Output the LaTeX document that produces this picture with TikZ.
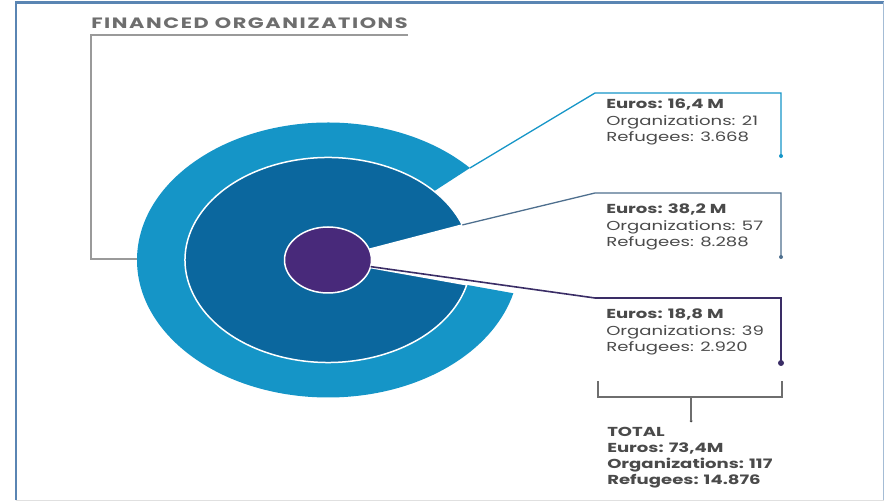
\documentclass[tikz,border=0pt]{standalone}
\usepackage{fontspec}
\setmainfont{Poppins}
\usetikzlibrary{calc}
\definecolor{lightb}{HTML}{1595C7}
\definecolor{darkb}{HTML}{0B679E}
\definecolor{purp}{HTML}{48297A}
\definecolor{steel}{HTML}{4E6F8E}
\definecolor{navy}{HTML}{3A2D66}
\definecolor{txt}{HTML}{4A4A4A}
\definecolor{frame}{HTML}{5A85B3}
\definecolor{grayline}{HTML}{9A9A9A}
\begin{document}
\begin{tikzpicture}[x=1pt,y=1pt,
  lbl/.style={anchor=north west, inner sep=0pt, align=left, text=txt, xscale=1.39,
    font=\fontsize{13}{16.5}\selectfont},
  conn/.style={line width=1.3pt},
  dotc/.style={circle, inner sep=0pt, minimum size=4pt}]
\useasboundingbox (0,0) rectangle (885,502);
\draw[frame, line width=2.5pt] (16,1.5) -- (16,499.5) -- (883.5,499.5);
\draw[frame!55, line width=1.5pt] (883.5,499.5) -- (883.5,1.5);
\draw[black!12, line width=1pt] (16,1) -- (883.5,1);
% title
\node[anchor=south west, inner sep=0pt, text=txt!80, xscale=1.39,
  font=\fontsize{15}{17}\selectfont\bfseries\addfontfeature{LetterSpace=7.5}] (title) at (91,473) {FINANCED ORGANIZATIONS};
\coordinate (tl) at (91,467);
\coordinate (tr) at (408,467);
\coordinate (lb) at (91,243);
\coordinate (C) at (328,242);
\coordinate (el) at (137,243);
\draw[grayline, line width=1.3pt] (tr) -- (tl) -- (lb) -- (el);
% rings
\fill[lightb] (C) -- ++(42:191 and 137.5) arc[start angle=42, end angle=346, x radius=191pt, y radius=137.5pt] -- cycle;
\filldraw[fill=darkb, draw=white, line width=1.5pt] (C) -- ++(20:143 and 102.5) arc[start angle=20, end angle=346, x radius=143pt, y radius=102.5pt] -- cycle;
\filldraw[fill=purp, draw=white, line width=1.5pt] (C) ellipse[x radius=43.5pt, y radius=33pt];
% connector points
\coordinate (s1) at ($(C)+(42:191 and 137.5)$);
\coordinate (s2) at ($(C)+(20:143 and 102.5)$);
\coordinate (s3) at ($(C)+(-11.6:43.5 and 33)$);
\coordinate (b1) at (595,409);
\coordinate (e1) at (781,409);
\coordinate (b2) at (595,309);
\coordinate (e2) at (781,309);
\coordinate (b3) at (595,204);
\coordinate (e3) at (781,204);
\node[dotc, fill=lightb] (d1) at (781,346) {};
\node[dotc, fill=steel] (d2) at (781,245) {};
\node[dotc, fill=navy, minimum size=6pt] (d3) at (781,139) {};
\draw[conn, lightb] (s1) -- (b1) -- (e1) -- (d1.center);
\draw[conn, steel] (s2) -- (b2) -- (e2) -- (d2.center);
\draw[conn, navy, line width=1.6pt] (s3) -- (b3) -- (e3) -- (d3.center);
% labels
\node[lbl] (l1) at (606,403) {\textbf{Euros: 16,4 M}\\Organizations: 21\\Refugees: 3.668};
\node[lbl] (l2) at (606,298) {\textbf{Euros: 38,2 M}\\Organizations: 57\\Refugees: 8.288};
\node[lbl] (l3) at (606,193) {\textbf{Euros: 18,8 M}\\Organizations: 39\\Refugees: 2.920};
% total bracket
\coordinate (k1) at (598,121);
\coordinate (k2) at (598,105);
\coordinate (k3) at (782,105);
\coordinate (k4) at (782,121);
\coordinate (km) at (691,105);
\node[dotc, fill=txt, minimum size=3pt] (kd) at (691,81) {};
\draw[conn, txt!80, line width=1.1pt] (k1) -- (k2) -- (k3) -- (k4);
\draw[conn, txt!80, line width=1.1pt] (km) -- (kd.center);
\node[lbl, font=\fontsize{13}{16}\selectfont\bfseries] (tot) at (607,75)
  {TOTAL\\Euros: 73,4M\\Organizations: 117\\Refugees: 14.876};
\end{tikzpicture}
\end{document}
